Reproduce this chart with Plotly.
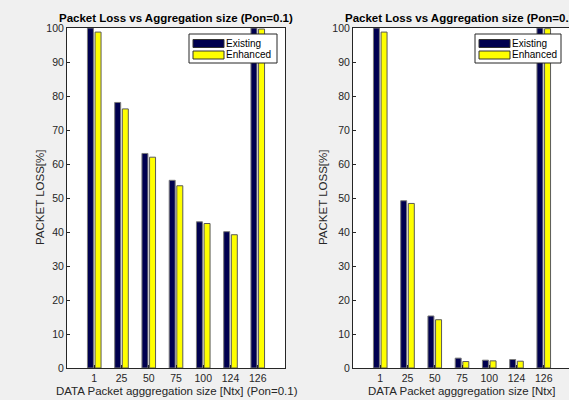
import plotly.graph_objects as go

categories = ["1", "25", "50", "75", "100", "124", "126"]
left_existing = [100, 78.1, 63.1, 55.2, 43.0, 40.1, 100]
left_enhanced = [98.8, 76.2, 62.0, 53.6, 42.5, 39.2, 99.7]
right_existing = [100, 49.2, 15.3, 2.9, 2.3, 2.5, 100]
right_enhanced = [98.8, 48.4, 14.2, 1.9, 2.1, 2.0, 99.8]
y_ticks = list(range(0, 101, 10))
series_names = ["Existing", "Enhanced"]

W, H = 569, 400
FONT = "Liberation Sans, Arial, sans-serif"
NAVY = "#00004f"
YELLOW = "#ffff00"
TXT = "#262626"

pos = list(range(1, len(categories) + 1))

fig = go.Figure()

def add_pair(ex, en, xa, ya):
    fig.add_trace(go.Bar(x=pos, y=ex, width=0.22, offset=-0.25, name=series_names[0],
                         marker=dict(color=NAVY, line=dict(color="#7a7a7a", width=1)),
                         xaxis=xa, yaxis=ya, showlegend=False))
    fig.add_trace(go.Bar(x=pos, y=en, width=0.22, offset=0.03, name=series_names[1],
                         marker=dict(color=YELLOW, line=dict(color="#5a5a5a", width=1)),
                         xaxis=xa, yaxis=ya, showlegend=False))

add_pair(left_existing, left_enhanced, "x", "y")
add_pair(right_existing, right_enhanced, "x2", "y2")

def px(x):
    return x / W

def py(y):
    return 1 - y / H

ydom = [py(368), py(28)]
axis_common = dict(showline=True, linecolor=TXT, linewidth=1, mirror=True,
                   ticks="inside", ticklen=3, tickcolor=TXT, showgrid=False,
                   zeroline=False, tickfont=dict(family=FONT, size=10.5, color=TXT))

fig.update_layout(
    width=W, height=H, margin=dict(l=0, r=0, t=0, b=0, autoexpand=False),
    paper_bgcolor="#f0f0f0", plot_bgcolor="#ffffff",
    barmode="overlay", showlegend=False,
    xaxis=dict(domain=[px(67), px(285)], range=[0, 8], tickvals=pos, ticktext=categories, **axis_common),
    yaxis=dict(domain=ydom, range=[0, 100], tickvals=y_ticks, **axis_common),
    xaxis2=dict(domain=[px(353), 1.0], range=[0, 8 * 216 / 218], tickvals=pos, ticktext=categories,
                anchor="y2", **axis_common),
    yaxis2=dict(domain=ydom, range=[0, 100], tickvals=y_ticks, anchor="x2", **axis_common),
)

ann = []
shapes = []
titles = [("Packet Loss vs Aggregation size (Pon=0.1)", 176), ("Packet Loss vs Aggregation size (Pon=0.1)", 462)]
for t, cx in titles:
    ann.append(dict(text="<b>%s</b>" % t, x=px(cx), y=py(18), xref="paper", yref="paper",
                    showarrow=False, font=dict(family=FONT, size=11.5, color="#000000"),
                    xanchor="center", yanchor="middle"))
xlabels = [("DATA Packet agggregation size [Ntx] (Pon=0.1)", 177), ("DATA Packet agggregation size [Ntx]", 462)]
for t, cx in xlabels:
    ann.append(dict(text=t, x=px(cx), y=py(391), xref="paper", yref="paper", showarrow=False,
                    font=dict(family=FONT, size=11.5, color=TXT), xanchor="center", yanchor="middle"))
for cx in (40, 323):
    ann.append(dict(text="PACKET LOSS[%]", x=px(cx), y=py(198), xref="paper", yref="paper",
                    showarrow=False, textangle=-90, font=dict(family=FONT, size=11.5, color=TXT),
                    xanchor="center", yanchor="middle"))

# legends
for lx0, lx1 in ((189, 277), (475, 561)):
    ly0, ly1 = 34, 63
    shapes.append(dict(type="rect", xref="paper", yref="paper", x0=px(lx0), x1=px(lx1),
                       y0=py(ly1), y1=py(ly0), fillcolor="#ffffff", line=dict(color=TXT, width=1)))
    for i, (nm, col) in enumerate(zip(series_names, [NAVY, YELLOW])):
        cy = 43.5 + i * 11.5
        shapes.append(dict(type="rect", xref="paper", yref="paper", x0=px(lx0 + 4), x1=px(lx0 + 35),
                           y0=py(cy + 4), y1=py(cy - 4), fillcolor=col,
                           line=dict(color="#333333", width=1)))
        ann.append(dict(text=nm, x=px(lx0 + 37), y=py(cy), xref="paper", yref="paper",
                        showarrow=False, font=dict(family=FONT, size=10, color="#000000"),
                        xanchor="left", yanchor="middle", xshift=-2))

fig.update_layout(annotations=ann, shapes=shapes)
fig.write_html("out.html", config={"displayModeBar": False},
               post_script="document.body.style.margin='0';document.body.style.padding='0';")
